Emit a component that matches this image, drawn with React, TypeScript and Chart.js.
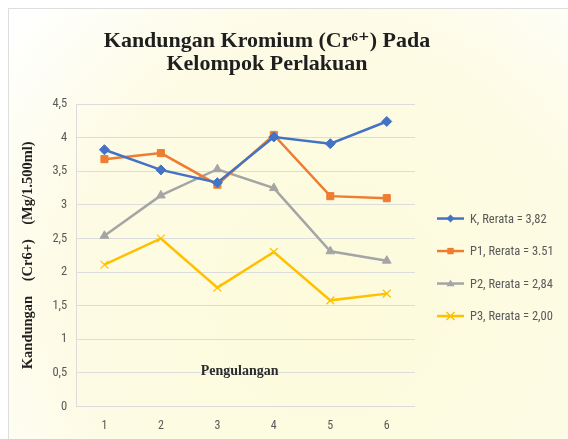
import React, { useEffect, useRef } from "react";
import { Chart, registerables } from "chart.js";

Chart.register(...registerables);

const categories = ["1", "2", "3", "4", "5", "6"];
const kValues = [3.82, 3.52, 3.33, 4.01, 3.91, 4.24];
const p1Values = [3.68, 3.77, 3.3, 4.04, 3.13, 3.1];
const p2Values = [2.54, 3.14, 3.53, 3.25, 2.31, 2.17];
const p3Values = [2.11, 2.5, 1.77, 2.3, 1.58, 1.68];
const seriesLabels = [
  "K, Rerata = 3,82",
  "P1, Rerata = 3.51",
  "P2, Rerata = 2,84",
  "P3, Rerata = 2,00",
];
const seriesColors = ["#4472C4", "#ED7D31", "#A5A5A5", "#FFC000"];
const seriesMarkers = ["rectRot", "rect", "triangle", "crossRot"];
const titleLines = ["Kandungan Kromium (Cr\u2076\u207A) Pada", "Kelompok Perlakuan"];
const yTitle = "Kandungan    (Cr6+)    (Mg/1.500ml)";
const xTitle = "Pengulangan";

const SERIF = "'Liberation Serif', 'DejaVu Serif', serif";
const SANS = "'Liberation Sans Narrow', 'Roboto Condensed', 'Liberation Sans', sans-serif";

function drawMarker(ctx: CanvasRenderingContext2D, style: string, x: number, y: number, r: number, color: string) {
  ctx.save();
  ctx.fillStyle = color;
  ctx.strokeStyle = color;
  ctx.lineWidth = 1.5;
  ctx.beginPath();
  if (style === "rectRot") {
    ctx.moveTo(x, y - r);
    ctx.lineTo(x + r, y);
    ctx.lineTo(x, y + r);
    ctx.lineTo(x - r, y);
    ctx.closePath();
    ctx.fill();
  } else if (style === "rect") {
    ctx.rect(x - r * 0.8, y - r * 0.8, r * 1.6, r * 1.6);
    ctx.fill();
  } else if (style === "triangle") {
    ctx.moveTo(x, y - r);
    ctx.lineTo(x + r, y + r * 0.7);
    ctx.lineTo(x - r, y + r * 0.7);
    ctx.closePath();
    ctx.fill();
  } else {
    ctx.moveTo(x - r, y - r);
    ctx.lineTo(x + r, y + r);
    ctx.moveTo(x + r, y - r);
    ctx.lineTo(x - r, y + r);
    ctx.stroke();
  }
  ctx.restore();
}

const backgroundPlugin = {
  id: "bgPlugin",
  beforeDraw(chart: any) {
    const { ctx, width, height } = chart;
    ctx.save();
    ctx.fillStyle = "#ffffff";
    ctx.fillRect(0, 0, width, height);
    const g = ctx.createRadialGradient(330, 300, 20, 330, 300, 420);
    g.addColorStop(0, "#fdfbdc");
    g.addColorStop(0.6, "#fdfbe4");
    g.addColorStop(1, "#ffffff");
    ctx.fillStyle = g;
    ctx.fillRect(9, 9, width - 9, height - 9);
    ctx.strokeStyle = "#dedede";
    ctx.lineWidth = 1;
    ctx.strokeRect(8.5, 8.5, width + 10, height + 10);
    ctx.restore();
  },
};

const extrasPlugin = {
  id: "extrasPlugin",
  afterDraw(chart: any) {
    const { ctx, chartArea } = chart;
    const yScale = chart.scales.y;
    ctx.save();
    // chart title
    ctx.font = `bold 22px ${SERIF}`;
    ctx.fillStyle = "#1f1f1f";
    ctx.textAlign = "center";
    ctx.textBaseline = "middle";
    titleLines.forEach((t, i) => ctx.fillText(t, 267, 41 + i * 23.5));
    // x-axis title inside plot
    ctx.font = `bold 14px ${SERIF}`;
    ctx.fillStyle = "#2b2b2b";
    ctx.fillText(xTitle, (chartArea.left + chartArea.right) / 2 - 6, yScale.getPixelForValue(0.52));
    // legend
    const cy = (chartArea.top + chartArea.bottom) / 2 + 12;
    const spacing = 32.5;
    const n = chart.data.datasets.length;
    const x0 = chartArea.right + 22;
    chart.data.datasets.forEach((ds: any, i: number) => {
      const y = cy + (i - (n - 1) / 2) * spacing;
      ctx.strokeStyle = ds.borderColor;
      ctx.lineWidth = 2.5;
      ctx.beginPath();
      ctx.moveTo(x0, y);
      ctx.lineTo(x0 + 27, y);
      ctx.stroke();
      drawMarker(ctx, ds.pointStyle, x0 + 13.5, y, 4, ds.borderColor);
      ctx.font = `12.5px ${SANS}`;
      ctx.fillStyle = "#595959";
      ctx.textAlign = "left";
      ctx.textBaseline = "middle";
      ctx.fillText(ds.label, x0 + 33, y + 1);
    });
    ctx.restore();
  },
};

export default function App() {
  const ref = useRef<HTMLCanvasElement | null>(null);
  useEffect(() => {
    if (!ref.current) return;
    const values = [kValues, p1Values, p2Values, p3Values];
    const chart = new Chart(ref.current, {
      type: "line",
      data: {
        labels: categories,
        datasets: values.map((v, i) => ({
          label: seriesLabels[i],
          data: v,
          borderColor: seriesColors[i],
          backgroundColor: seriesColors[i],
          pointBackgroundColor: seriesColors[i],
          pointBorderColor: seriesColors[i],
          pointStyle: seriesMarkers[i] as any,
          pointRadius: i === 3 ? 5.5 : 5,
          pointBorderWidth: i === 3 ? 1.2 : 1,
          borderWidth: 2.5,
          tension: 0,
          fill: false,
        })),
      },
      options: {
        animation: false,
        responsive: false,
        layout: { padding: { left: 20, right: 153, top: 104, bottom: -6 } },
        plugins: {
          legend: { display: false },
          tooltip: { enabled: false },
          title: { display: false },
        },
        scales: {
          x: {
            offset: true,
            grid: { display: false, drawTicks: false },
            border: { display: false },
            ticks: { color: "#595959", font: { family: SANS, size: 12 }, padding: 12 },
          },
          y: {
            min: 0,
            max: 4.5,
            ticks: {
              stepSize: 0.5,
              color: "#595959",
              font: { family: SANS, size: 12.5 },
              padding: 9,
              callback: (v: any) => String(v).replace(".", ","),
            },
            grid: { color: "#dcdcdc", drawTicks: false, lineWidth: 1 },
            border: { display: true, color: "#dcdcdc" },
            title: {
              display: true,
              text: yTitle,
              color: "#1f1f1f",
              font: { family: SERIF, size: 14.5, weight: "bold" },
              padding: { top: 0, bottom: 6 },
            },
          },
        },
      },
      plugins: [backgroundPlugin, extrasPlugin],
    });
    return () => chart.destroy();
  }, []);
  return (
    <div style={{ position: "fixed", left: 0, top: 0, width: 568, height: 439, overflow: "hidden" }}>
      <canvas ref={ref} width={568} height={439} style={{ display: "block", width: 568, height: 439 }} />
    </div>
  );
}
